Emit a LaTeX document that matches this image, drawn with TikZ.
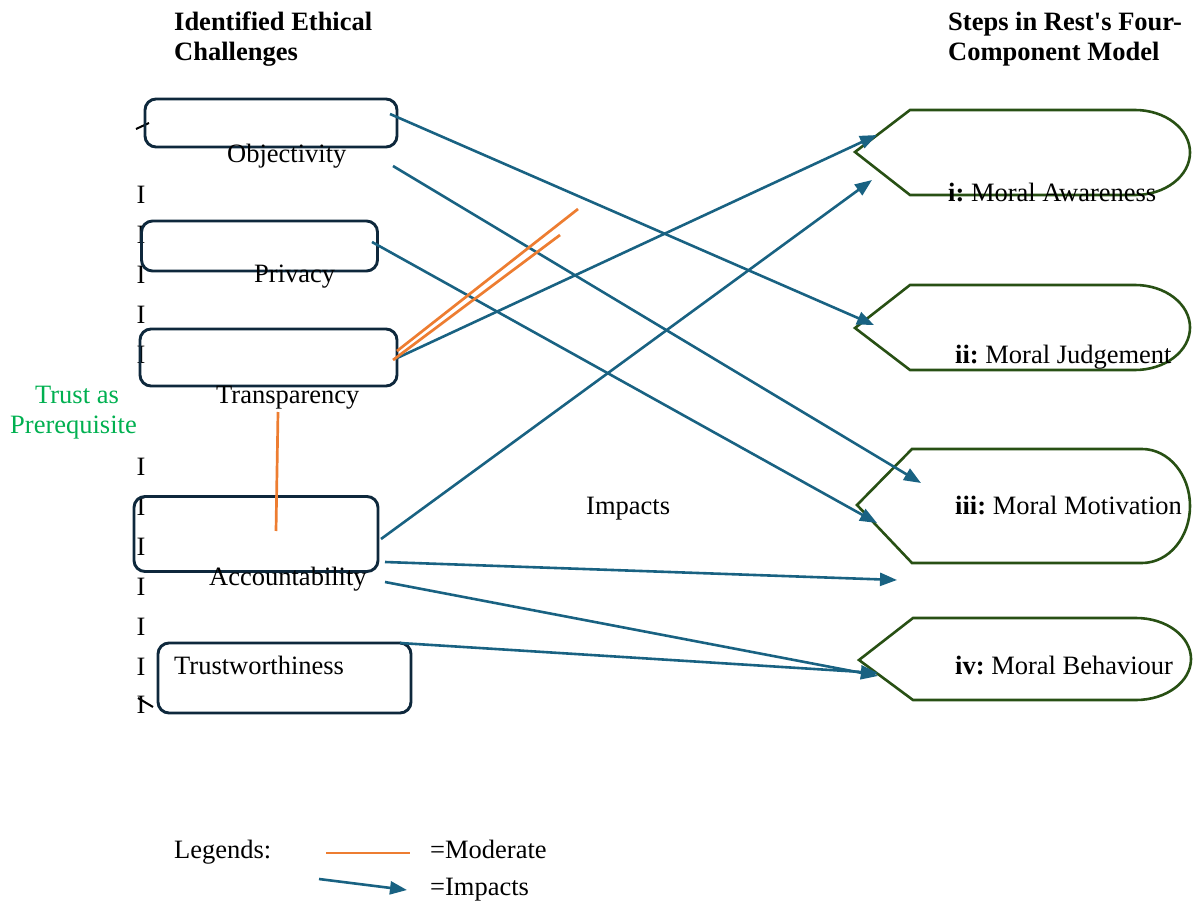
\documentclass[tikz,border=0pt]{standalone}
\usepackage{fontspec}
\setmainfont{Liberation Serif}
\usetikzlibrary{arrows.meta}
\definecolor{boxc}{RGB}{14,40,60}
\definecolor{arrc}{RGB}{25,98,130}
\definecolor{orc}{RGB}{237,125,49}
\definecolor{grc}{RGB}{40,80,20}
\definecolor{trc}{RGB}{0,176,80}
\newcommand\dgfont{\fontsize{26.5pt}{30pt}\selectfont\frenchspacing}
\begin{document}
\begin{tikzpicture}[x=1pt,y=-1pt,
  lbl/.style={anchor=base west, inner sep=0pt, font=\dgfont},
  hdr/.style={anchor=base west, inner sep=0pt, font=\dgfont\bfseries},
  ebox/.style={draw=boxc, line width=2.9pt, rounded corners=11pt, inner sep=0pt},
  ichar/.style={inner sep=0pt, font=\dgfont},
  impact/.style={draw=arrc, line width=2.6pt, -{Triangle[length=17pt,width=13pt]}},
  moder/.style={draw=orc, line width=2.7pt},
  stepshape/.style={draw=grc, line width=2.6pt, line join=miter}]
\useasboundingbox (0,0) rectangle (1196,901);

% headers
\node[hdr] (h1a) at (174,31) {Identified Ethical};
\node[hdr] (h1b) at (174,61) {Challenges};
\node[hdr] (h2a) at (948,31) {Steps in Rest\textquotesingle s Four-};
\node[hdr] (h2b) at (948,61) {Component Model};

% left bracket made of I characters
\foreach \k/\yy in {1/195,2/235,3/275,4/315,5/355,6/467,7/507,8/547,9/587,10/627,11/667,12/705}
  \node[ichar] (i\k) at (141,\yy) {I};
\coordinate (tk1a) at (136,129); \coordinate (tk1b) at (149,123);
\coordinate (tk2a) at (138,698); \coordinate (tk2b) at (153,707);
\draw[line width=2pt] (tk1a) -- (tk1b);
\draw[line width=2pt] (tk2a) -- (tk2b);

% left boxes
\node[ebox, minimum width=252pt, minimum height=48pt] (bobj) at (271,123) {};
\node[ebox, minimum width=236pt, minimum height=50pt] (bpri) at (259.5,246) {};
\node[ebox, minimum width=257pt, minimum height=57pt] (btra) at (268.5,357.5) {};
\node[ebox, minimum width=244pt, minimum height=75pt] (bacc) at (256,534) {};
\node[ebox, minimum width=253pt, minimum height=70pt] (btru) at (284.5,678) {};

\node[lbl] (tobj) at (227,163) {Objectivity};
\node[lbl] (tpri) at (254,283) {Privacy};
\node[lbl] (ttra) at (216,403) {Transparency};
\node[lbl] (tacc) at (209,585) {Accountability};
\node[lbl] (ttru) at (174,674) {Trustworthiness};

% trust as prerequisite
\node[inner sep=0pt, anchor=base, font=\dgfont, text=trc] (tr1) at (77,403) {Trust as};
\node[inner sep=0pt, anchor=base, font=\dgfont, text=trc] (tr2) at (73.5,433) {Prerequisite};

% right step shapes
\coordinate (s1) at (855,152);
\coordinate (s2) at (855,328);
\coordinate (s3) at (857,505);
\coordinate (s4) at (859,660);
\draw[stepshape] (s1) -- (910,110) -- (1135,110) arc[start angle=90,end angle=-90,x radius=55pt,y radius=42.5pt] -- (910,195) -- cycle;
\draw[stepshape] (s2) -- (910,285) -- (1135,285) arc[start angle=90,end angle=-90,x radius=55pt,y radius=42.5pt] -- (910,370) -- cycle;
\draw[stepshape] (s3) -- (912,449) -- (1142,449) arc[start angle=90,end angle=-90,x radius=48pt,y radius=57pt] -- (912,563) -- cycle;
\draw[stepshape] (s4) -- (913,618) -- (1136,618) arc[start angle=90,end angle=-90,x radius=55pt,y radius=41pt] -- (913,700) -- cycle;

\node[lbl] (m1) at (948,202) {\textbf{i:} Moral Awareness};
\node[lbl] (m2) at (955,363) {\textbf{ii:} Moral Judgement};
\node[lbl] (m3) at (955,514) {\textbf{iii:} Moral Motivation};
\node[lbl] (m4) at (955,674) {\textbf{iv:} Moral Behaviour};

\node[lbl] (imp) at (586,514) {Impacts};

% impact arrows
\coordinate (a1s) at (390,114); \coordinate (a1e) at (874,325);
\coordinate (a2s) at (393,166); \coordinate (a2e) at (921,483);
\coordinate (a3s) at (372,242); \coordinate (a3e) at (877,523);
\coordinate (a4s) at (395,359); \coordinate (a4e) at (877,135);
\coordinate (a5s) at (381,539); \coordinate (a5e) at (872,180);
\coordinate (a6s) at (385,562); \coordinate (a6e) at (897,580);
\coordinate (a7s) at (385,582); \coordinate (a7e) at (878,676);
\coordinate (a8s) at (400,643); \coordinate (a8e) at (878,673);
\draw[impact] (a1s) -- (a1e);
\draw[impact] (a2s) -- (a2e);
\draw[impact] (a3s) -- (a3e);
\draw[impact] (a4s) -- (a4e);
\draw[impact] (a5s) -- (a5e);
\draw[impact] (a6s) -- (a6e);
\draw[impact] (a7s) -- (a7e);
\draw[impact] (a8s) -- (a8e);

% moderate lines
\coordinate (o1s) at (397,351); \coordinate (o1e) at (578,209);
\coordinate (o2s) at (393,360); \coordinate (o2e) at (560,235);
\coordinate (o3s) at (278,412); \coordinate (o3e) at (276,531);
\draw[moder] (o1s) -- (o1e);
\draw[moder] (o2s) -- (o2e);
\draw[moder] (o3s) -- (o3e);

% legend
\node[lbl] (lg) at (174,858) {Legends:};
\coordinate (l1s) at (326,853); \coordinate (l1e) at (410,853);
\draw[moder] (l1s) -- (l1e);
\node[lbl] (lgm) at (430,858) {=Moderate};
\coordinate (l2s) at (319,879); \coordinate (l2e) at (407,890);
\draw[impact] (l2s) -- (l2e);
\node[lbl] (lgi) at (430,895) {=Impacts};
\end{tikzpicture}
\end{document}
